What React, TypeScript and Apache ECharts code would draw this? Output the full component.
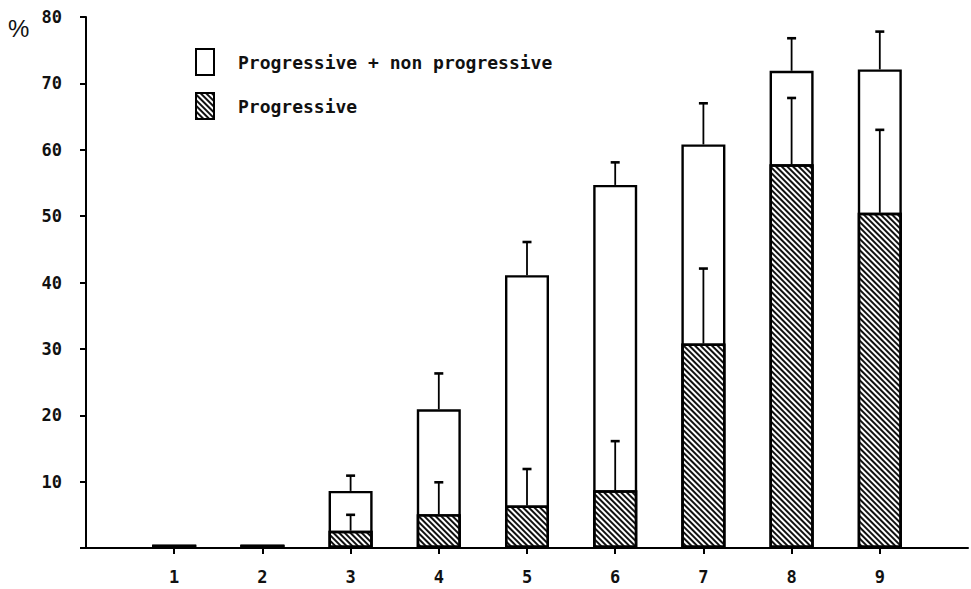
import React, { useEffect, useRef } from "react";
import * as echarts from "echarts";

const axisCategories = ["0", "1", "2", "3", "4", "5", "6", "7", "8", "9", "10"];
const categories = ["1", "2", "3", "4", "5", "6", "7", "8", "9"];
const totalValues = [0.5, 0.5, 8.6, 20.9, 41.1, 54.7, 60.8, 71.9, 72.1];
const totalUpper = [null, null, 10.9, 26.3, 46.1, 58.1, 67.0, 76.8, 77.8];
const progValues = [0.5, 0.5, 2.6, 5.1, 6.4, 8.7, 30.8, 57.8, 50.5];
const progUpper = [null, null, 5.0, 9.9, 11.9, 16.1, 42.1, 67.8, 63.0];
const yTicks = [10, 20, 30, 40, 50, 60, 70, 80];

const FONT = "DejaVu Sans Mono";

export default function App() {
  const ref = useRef<HTMLDivElement>(null);
  useEffect(() => {
    if (!ref.current) return;
    const chart = echarts.init(ref.current, null, { renderer: "svg" });
    const hatch = {
      symbol: "rect",
      symbolSize: 1,
      color: "#111",
      backgroundColor: "#fff",
      dashArrayX: [1, 0],
      dashArrayY: [2, 2],
      rotation: Math.PI / 4,
    };
    const errData = (vals: number[], ups: (number | null)[]) =>
      categories
        .map((c, i) => (ups[i] == null ? null : [c, vals[i], ups[i]]))
        .filter((d) => d !== null);
    const renderErr = (params: any, api: any) => {
      const x = api.value(0);
      const lo = api.coord([x, api.value(1)]);
      const hi = api.coord([x, api.value(2)]);
      return {
        type: "group",
        children: [
          {
            type: "line",
            shape: { x1: lo[0], y1: lo[1], x2: hi[0], y2: hi[1] },
            style: { stroke: "#000", lineWidth: 1.8 },
          },
          {
            type: "line",
            shape: { x1: hi[0] - 4.5, y1: hi[1], x2: hi[0] + 4.5, y2: hi[1] },
            style: { stroke: "#000", lineWidth: 2.6 },
          },
        ],
      };
    };
    chart.setOption({
      animation: false,
      backgroundColor: "#fff",
      grid: { left: 86, right: 1, top: 17, bottom: 41 },
      legend: {
        orient: "vertical",
        left: 190,
        top: 43,
        itemWidth: 18,
        itemHeight: 26,
        itemGap: 16,
        selectedMode: false,
        textStyle: {
          fontFamily: FONT,
          fontWeight: "bold",
          fontSize: 18,
          color: "#111",
          padding: [0, 0, 0, 19],
        },
        data: [
          {
            name: "Progressive + non progressive",
            icon: "rect",
            itemStyle: { color: "#fff", borderColor: "#000", borderWidth: 2 },
          },
          {
            name: "Progressive",
            icon: "rect",
            itemStyle: { color: "#fff", borderColor: "#000", borderWidth: 2, decal: hatch },
          },
        ],
      },
      graphic: [
        {
          type: "text",
          left: 8,
          top: 16,
          style: { text: "%", fontSize: 24, fontFamily: "Liberation Sans", fill: "#111" },
        },
      ],
      xAxis: {
        type: "category",
        data: axisCategories,
        boundaryGap: false,
        axisLine: { lineStyle: { color: "#000", width: 2 } },
        axisTick: {
          length: 6,
          lineStyle: { color: "#000", width: 2 },
          interval: (i: number, v: string) => categories.includes(v),
        },
        axisLabel: {
          margin: 20,
          fontFamily: FONT,
          fontWeight: "bold",
          fontSize: 17,
          color: "#111",
          interval: 0,
          formatter: (v: string) => (categories.includes(v) ? v : ""),
        },
        splitLine: { show: false },
      },
      yAxis: {
        type: "value",
        min: 0,
        max: 80,
        interval: 10,
        axisLine: { show: true, lineStyle: { color: "#000", width: 2 } },
        axisTick: { show: true, length: 6, lineStyle: { color: "#000", width: 2 } },
        axisLabel: {
          margin: 24,
          fontFamily: FONT,
          fontWeight: "bold",
          fontSize: 17,
          color: "#111",
          padding: [0, 0, 4, 0],
          formatter: (v: number) => (yTicks.includes(v) ? String(v) : ""),
        },
        splitLine: { show: false },
      },
      series: [
        {
          name: "Progressive + non progressive",
          type: "bar",
          barWidth: 44,
          barGap: "-100%",
          data: categories.map((c, i) => [c, totalValues[i]]),
          itemStyle: { color: "#fff", borderColor: "#000", borderWidth: 2.4 },
          z: 2,
        },
        {
          name: "Progressive",
          type: "bar",
          barWidth: 44,
          barGap: "-100%",
          data: categories.map((c, i) => [c, progValues[i]]),
          itemStyle: { color: "#fff", borderColor: "#000", borderWidth: 2.4, decal: hatch },
          z: 3,
        },
        {
          type: "custom",
          name: "err-total",
          renderItem: renderErr,
          data: errData(totalValues, totalUpper),
          z: 4,
        },
        {
          type: "custom",
          name: "err-prog",
          renderItem: renderErr,
          data: errData(progValues, progUpper),
          z: 4,
        },
      ],
    });
    return () => chart.dispose();
  }, []);
  return (
    <div
      ref={ref}
      style={{ position: "absolute", left: 0, top: 0, width: 971, height: 589 }}
    />
  );
}
